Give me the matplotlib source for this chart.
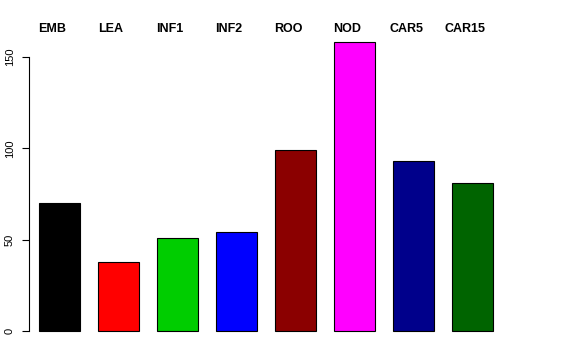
import matplotlib
matplotlib.use('Agg')
import matplotlib.pyplot as plt
import numpy as np

plt.rcParams['font.family'] = ['Liberation Sans', 'DejaVu Sans']

# Data
labels = ['EMB', 'LEA', 'INF1', 'INF2', 'ROO', 'NOD', 'CAR5', 'CAR15']
values = [70, 38, 51, 54, 99, 158, 93, 81]
colors = ['#000000', '#FF0000', '#00CD00', '#0000FF', '#8B0000', '#FF00FF', '#00008B', '#006400']
yticks = [0, 50, 100, 150]

fig = plt.figure(figsize=(5.76, 3.6), dpi=100)
# axes placed in pixel terms to mimic the R barplot layout
ax = fig.add_axes([28.5 / 576, 17.5 / 360, 519.5 / 576, 311.7 / 360])

x = 0.63 + 1.2 * np.arange(len(values))
ax.bar(x, values, width=0.834, color=colors, edgecolor='black', linewidth=0.8)

ax.set_xlim(0, 519.5 / 49.17)
ax.set_ylim(-6.32, 164.32)

for s in ['top', 'right', 'bottom']:
    ax.spines[s].set_visible(False)
ax.spines['left'].set_bounds(0, 150)
ax.spines['left'].set_linewidth(0.8)
ax.set_xticks([])
ax.set_yticks(yticks)
ax.set_yticklabels([str(t) for t in yticks], rotation=90, va='center')
ax.tick_params(axis='y', length=5, width=0.8, pad=5, labelsize=8)

# bar names along the top, bold
for xi, lab in zip(x, labels):
    ax.annotate(lab, xy=(xi, 331), xycoords=('data', 'figure pixels'),
                xytext=(-7.5, 0), textcoords='offset pixels',
                ha='center', va='center', fontsize=9, fontweight='bold')

fig.savefig('out.png', dpi=100)
